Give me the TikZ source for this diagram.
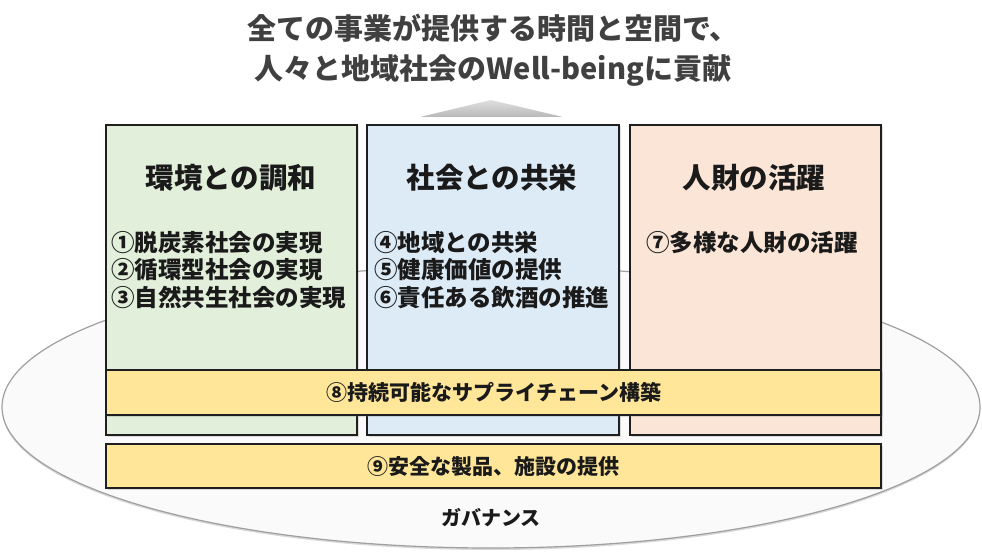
\documentclass[tikz,border=0pt]{standalone}
\usepackage{fontspec}
\setmainfont{Noto Sans CJK JP}
\usetikzlibrary{shadows}
\definecolor{envgreen}{HTML}{E2EFDA}
\definecolor{socblue}{HTML}{DDEBF7}
\definecolor{hrorange}{HTML}{FBE5D6}
\definecolor{baryellow}{HTML}{FFE699}
\definecolor{headgray}{HTML}{404040}
\definecolor{textblack}{HTML}{1A1A1A}

\begin{document}
\begin{tikzpicture}[x=1pt,y=-1pt,
    pillar/.style={draw=black!88,line width=2pt,anchor=north west,inner sep=0pt,
        minimum width=251pt,minimum height=310pt,
        drop shadow={opacity=0.25,shadow xshift=1.5pt,shadow yshift=-1.5pt}},
    bar/.style={draw=black!88,line width=2pt,fill=baryellow,anchor=north west,inner sep=0pt,
        minimum width=775pt,minimum height=45pt,text=textblack,
        font=\bfseries\fontsize{21}{25}\selectfont,
        drop shadow={opacity=0.25,shadow xshift=1.5pt,shadow yshift=-1.5pt}},
    title/.style={text=textblack,font=\bfseries\fontsize{28.5}{32}\selectfont},
    items/.style={text=textblack,align=left,inner sep=0pt,font=\bfseries\fontsize{23.5}{27.5}\selectfont}]
    \useasboundingbox (0,0) rectangle (982,553);
    % governance ellipse
    \draw[gray!75,line width=1.2pt,fill=gray!4,
        drop shadow={opacity=0.3,shadow xshift=0pt,shadow yshift=-2pt}]
        (491,407) ellipse [x radius=489,y radius=141];
    \node[text=textblack,font=\bfseries\fontsize{20}{24}\selectfont] (gov) at (491,518) {ガバナンス};
    % headline and arrow
    \node[text=headgray,align=center,font=\bfseries\fontsize{29}{40}\selectfont] (head) at (493,50)
        {全ての事業が提供する時間と空間で、\\人々と地域社会のWell-beingに貢献};
    \shade[top color=gray!25,bottom color=gray!55] (420,117) -- (491,100) -- (563,117) -- cycle;
    % three pillars
    \node[pillar,fill=envgreen] (env) at (105,124) {};
    \node[pillar,fill=socblue,minimum width=252pt] (soc) at (366,124) {};
    \node[pillar,fill=hrorange] (hr) at (629,124) {};
    \node[title] (envtitle) at (231,178) {環境との調和};
    \node[title] (soctitle) at (492,178) {社会との共栄};
    \node[title] (hrtitle) at (754,178) {人財の活躍};
    \node[items,anchor=west] (envitems) at (111,270) {①脱炭素社会の実現\\②循環型社会の実現\\③自然共生社会の実現};
    \node[items,anchor=west] (socitems) at (374,270) {④地域との共栄\\⑤健康価値の提供\\⑥責任ある飲酒の推進};
    \node[items] (hritems) at (752,243) {⑦多様な人財の活躍};
    % cross-cutting bars
    \node[bar] (supply) at (105,369) {⑧持続可能なサプライチェーン構築};
    \node[bar,minimum height=44pt] (safety) at (105,443) {⑨安全な製品、施設の提供};
\end{tikzpicture}
\end{document}
